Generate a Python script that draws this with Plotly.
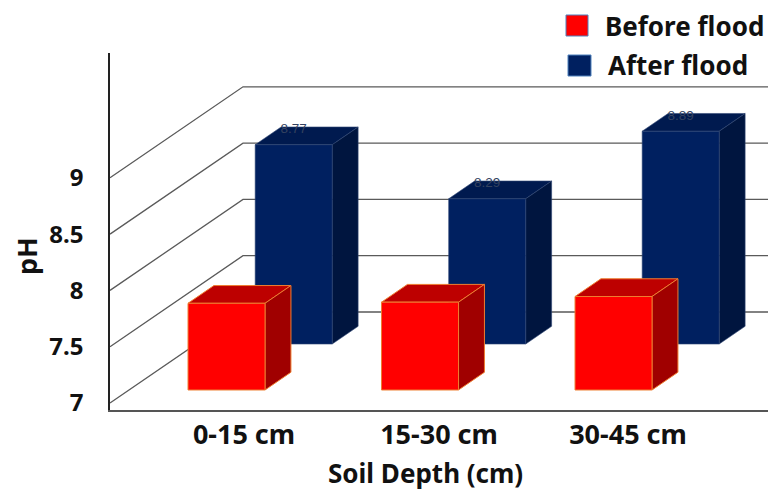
import plotly.graph_objects as go

# Soil pH by depth, before and after the flood
depths = ["0-15 cm", "15-30 cm", "30-45 cm"]
before_flood = [7.77, 7.78, 7.83]
after_flood = [8.77, 8.29, 8.89]
ph_ticks = [7, 7.5, 8, 8.5, 9]
ph_tick_labels = ["7", "7.5", "8", "8.5", "9"]

WIDTH, HEIGHT = 768, 490
PLOT_LEFT, PLOT_TOP, PLOT_BOTTOM = 110, 53, 410
PX_PER_CATEGORY = 193.5
PX_PER_PH = 112.6
FONT = "Noto Sans"
INK = "#111111"

# Oblique projection: moving through the depth of the box shifts a point
# right along x and up along pH.
WALL_DX = 133 / PX_PER_CATEGORY
WALL_DY = 91 / PX_PER_PH
X_MAX = (WIDTH - PLOT_LEFT) / PX_PER_CATEGORY
BAR_OFFSET = 59 / PX_PER_CATEGORY
BAR_WIDTH = 77 / PX_PER_CATEGORY
BAR_DEPTH = 0.195
BASE = 7


def project(x, ph, depth):
    return x + depth * WALL_DX, ph + depth * WALL_DY


def face(points, fill, line, width):
    xs, ys = zip(*(project(*p) for p in points + points[:1]))
    return go.Scatter(x=xs, y=ys, mode="lines", fill="toself", fillcolor=fill,
                      line=dict(color=line, width=width), hoverinfo="skip",
                      showlegend=False)


def bar(category, value, depth, colors, line, width):
    x0 = category + BAR_OFFSET
    x1 = x0 + BAR_WIDTH
    d1 = depth + BAR_DEPTH
    front_color, top_color, side_color = colors
    return [
        face([(x0, value, depth), (x1, value, depth), (x1, value, d1), (x0, value, d1)],
             top_color, line, width),
        face([(x1, BASE, depth), (x1, BASE, d1), (x1, value, d1), (x1, value, depth)],
             side_color, line, width),
        face([(x0, BASE, depth), (x1, BASE, depth), (x1, value, depth), (x0, value, depth)],
             front_color, line, width),
    ]


fig = go.Figure()

# Gridlines run up the side wall, then along the back wall
for tick in ph_ticks:
    back_x, back_y = project(0, tick, 1)
    fig.add_trace(go.Scatter(x=[0, back_x, X_MAX], y=[tick, back_y, back_y], mode="lines",
                             line=dict(color="#5a5a5a", width=1.3), hoverinfo="skip",
                             showlegend=False))

BLUE = ("#002060", "#001a4f", "#00153f")
RED = ("#ff0000", "#bd0000", "#a00000")
BLUE_DEPTH = 0.648
RED_DEPTH = 0.143

for i, value in enumerate(after_flood):
    fig.add_traces(bar(i, value, BLUE_DEPTH, BLUE, "#2f4674", 0.6))
    x, y = project(i + BAR_OFFSET + BAR_WIDTH / 2, value + 15 / PX_PER_PH, BLUE_DEPTH)
    fig.add_trace(go.Scatter(x=[x], y=[y], mode="text", text=[f"{value:.2f}"],
                             textfont=dict(family="Liberation Sans", size=13.5, color="#34425f"),
                             hoverinfo="skip", showlegend=False))

for i, value in enumerate(before_flood):
    fig.add_traces(bar(i, value, RED_DEPTH, RED, "#ee7d31", 1))

# Category labels sit a little to the right of the bars they name
label_positions = [(244 - PLOT_LEFT) / PX_PER_CATEGORY,
                   (439 - PLOT_LEFT) / PX_PER_CATEGORY,
                   (628 - PLOT_LEFT) / PX_PER_CATEGORY]

fig.update_layout(
    width=WIDTH, height=HEIGHT, margin=dict(l=0, r=0, t=0, b=0),
    paper_bgcolor="white", plot_bgcolor="white", showlegend=False,
    font=dict(family=FONT, color=INK),
    xaxis=dict(domain=[PLOT_LEFT / WIDTH, 1], range=[0, X_MAX], showgrid=False, zeroline=False,
               automargin=False,
               showline=True, linecolor="#555555", linewidth=2,
               tickmode="array", tickvals=label_positions, ticktext=depths,
               ticks="", tickfont=dict(family=FONT, size=27, color=INK, weight=700)),
    yaxis=dict(domain=[1 - PLOT_BOTTOM / HEIGHT, 1 - PLOT_TOP / HEIGHT],
               range=[BASE - (PLOT_BOTTOM - 403) / PX_PER_PH, BASE + (403 - PLOT_TOP) / PX_PER_PH],
               showgrid=False, zeroline=False, automargin=False,
               showline=True, linecolor="#222222", linewidth=1.5,
               tickmode="array", tickvals=ph_ticks, ticktext=ph_tick_labels,
               ticks="outside", ticklen=20, tickcolor="rgba(0,0,0,0)",
               tickfont=dict(family=FONT, size=24, color=INK, weight=700)),
)


def paper_x(px):
    return px / WIDTH


def paper_y(py):
    return 1 - py / HEIGHT


def caption(text, cx, cy, size, angle=0):
    fig.add_annotation(text=f"<b>{text}</b>", xref="paper", yref="paper", showarrow=False,
                       x=paper_x(cx), y=paper_y(cy), xanchor="center", yanchor="middle",
                       textangle=angle, font=dict(family=FONT, size=size, color=INK))


caption("Soil Depth (cm)", 425, 473, 26)
caption("pH", 26, 256, 27, angle=-90)

# Key entries in the upper right corner
for label, color, (x0, y0, x1, y1), text_x, text_y in [
    ("Before flood", RED[0], (566, 15, 588, 36), 684, 26),
    ("After flood", BLUE[0], (568, 55, 591, 76), 678, 65),
]:
    fig.add_shape(type="rect", xref="paper", yref="paper",
                  x0=paper_x(x0), x1=paper_x(x1), y0=paper_y(y1), y1=paper_y(y0),
                  fillcolor=color, line=dict(color="#4f81bd", width=1))
    caption(label, text_x, text_y, 26)

fig.write_html("out.html")
